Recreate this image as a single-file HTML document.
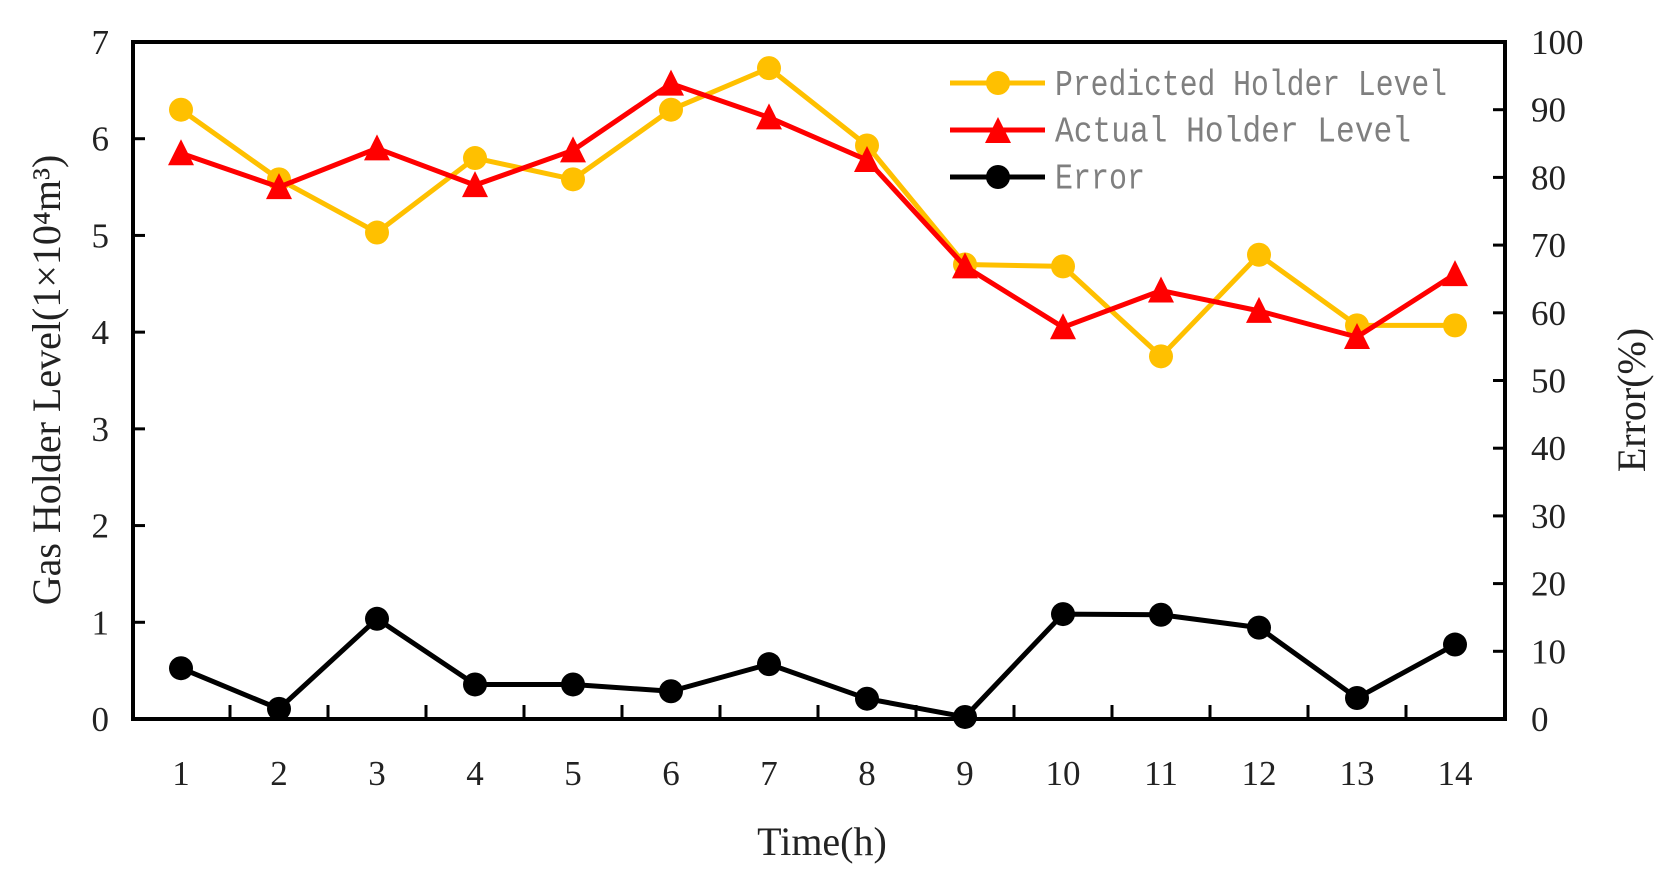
<!DOCTYPE html>
<html><head><meta charset="utf-8"><style>
body{margin:0;background:#fff;}
svg text{font-family:"Liberation Serif",serif;fill:#222;}
svg text.mono{font-family:"Liberation Mono",monospace;fill:#7f7f7f;}
</style></head><body>
<svg width="1668" height="879" viewBox="0 0 1668 879" xmlns="http://www.w3.org/2000/svg">
<g id="axes"></g><g id="series"></g>
<g>
 <g>
  <line x1="950" y1="83" x2="1045" y2="83" stroke="#FFC000" stroke-width="5"/><circle cx="998" cy="83" r="12" fill="#FFC000"/>
  <text class="mono" x="1055" y="79" font-size="30" transform="scale(1,1.2)" textLength="392" lengthAdjust="spacingAndGlyphs">Predicted Holder Level</text>
 </g>
 <g>
  <line x1="950" y1="130" x2="1045" y2="130" stroke="#FF0000" stroke-width="5"/><polygon points="998,117 1011,143 985,143" fill="#FF0000"/>
  <text class="mono" x="1055" y="118" font-size="30" transform="scale(1,1.2)" textLength="356" lengthAdjust="spacingAndGlyphs">Actual Holder Level</text>
 </g>
 <g>
  <line x1="950" y1="177" x2="1045" y2="177" stroke="#000" stroke-width="5"/><circle cx="998" cy="177" r="12" fill="#000"/>
  <text class="mono" x="1055" y="157" font-size="30" transform="scale(1,1.2)" textLength="90" lengthAdjust="spacingAndGlyphs">Error</text>
 </g>
</g>
<text x="822" y="855" font-size="40" text-anchor="middle">Time(h)</text>
<text transform="translate(60,380) rotate(-90)" font-size="40" text-anchor="middle">Gas Holder Level(1×10⁴m³)</text>
<text transform="translate(1645,400) rotate(-90)" font-size="40" text-anchor="middle">Error(%)</text>
</svg>
<script>
const categories=[1,2,3,4,5,6,7,8,9,10,11,12,13,14];
const predicted=[6.3,5.58,5.03,5.8,5.58,6.3,6.73,5.93,4.7,4.68,3.75,4.8,4.07,4.07];
const actual=[5.85,5.5,5.9,5.52,5.88,6.57,6.22,5.78,4.68,4.05,4.43,4.22,3.95,4.6];
const errorPct=[7.5,1.5,14.8,5.1,5.1,4.1,8.1,3.0,0.3,15.5,15.4,13.5,3.1,11.0];
const leftTicks=[0,1,2,3,4,5,6,7];
const rightTicks=[0,10,20,30,40,50,60,70,80,90,100];
const NS="http://www.w3.org/2000/svg";
const L=133,R=1505,T=42,B=719;
const x=i=>181+(i-1)*98;
const yL=v=>B-(B-T)*v/7;
const yR=v=>B-(B-T)*v/100;
function mk(tag,attrs,parent){const e=document.createElementNS(NS,tag);for(const k in attrs)e.setAttribute(k,attrs[k]);parent.appendChild(e);return e;}
const ax=document.getElementById('axes'),se=document.getElementById('series');
const frame=mk('rect',{x:L,y:T,width:R-L,height:B-T,fill:'none',stroke:'#000','stroke-width':4},ax);


leftTicks.forEach(v=>{
 mk('line',{x1:L,x2:L+12,y1:yL(v),y2:yL(v),stroke:'#000','stroke-width':3},ax);
 const t=mk('text',{x:L-24,y:yL(v)+12,'font-size':35,'text-anchor':'end'},ax);t.textContent=v;
 
 
});
rightTicks.forEach(v=>{
 mk('line',{x1:R,x2:R-12,y1:yR(v),y2:yR(v),stroke:'#000','stroke-width':3},ax);
 const t=mk('text',{x:R+26,y:yR(v)+12,'font-size':35},ax);t.textContent=v;
 
 
});
categories.forEach((c,i)=>{
 if(i<categories.length-1){const m=(x(c)+x(categories[i+1]))/2;mk('line',{x1:m,x2:m,y1:B,y2:B-14,stroke:'#000','stroke-width':3},ax);}
 const t=mk('text',{x:x(c),y:785,'font-size':35,'text-anchor':'middle'},ax);t.textContent=c;
 
 
});
function series(vals,yf,color,marker,name){
 const g=mk('g',{},se);
 
 
 mk('polyline',{points:vals.map((v,i)=>x(categories[i])+','+yf(v)).join(' '),fill:'none',stroke:color,'stroke-width':5,'stroke-linejoin':'round'},g);
 vals.forEach((v,i)=>{
  const cx=x(categories[i]),cy=yf(v);let m;
  if(marker==='tri')m=mk('polygon',{points:`${cx},${cy-14} ${cx+13},${cy+12} ${cx-13},${cy+12}`,fill:color},g);
  else m=mk('circle',{cx:cx,cy:cy,r:12,fill:color},g);
  
  
 });
}
series(predicted,yL,'#FFC000','circle','predicted-line');
series(actual,yL,'#FF0000','tri','actual-line');
series(errorPct,yR,'#000000','circle','error-line');
</script>
</body></html>
